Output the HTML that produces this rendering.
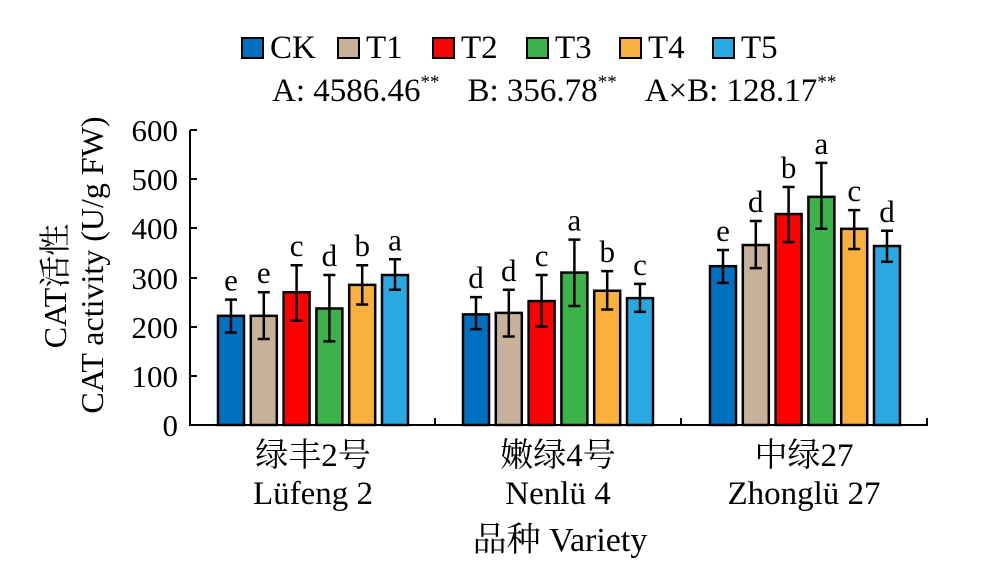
<!DOCTYPE html>
<html><head><meta charset="utf-8"><style>body{margin:0;background:#fff}svg{display:block}text{font-family:"Liberation Serif","Noto Serif CJK SC","Noto Sans CJK SC",serif;fill:#000}</style></head>
<body>
<svg width="988" height="567" viewBox="0 0 988 567" xmlns="http://www.w3.org/2000/svg">
<g font-size="33">
<rect x="242" y="38" width="21" height="20" fill="#0070c0" stroke="#000" stroke-width="2"/><text x="270" y="58">CK</text>
<rect x="338" y="38" width="21" height="20" fill="#c8b19a" stroke="#000" stroke-width="2"/><text x="366" y="58">T1</text>
<rect x="433" y="38" width="21" height="20" fill="#ff0000" stroke="#000" stroke-width="2"/><text x="461" y="58">T2</text>
<rect x="527" y="38" width="21" height="20" fill="#3bb34a" stroke="#000" stroke-width="2"/><text x="555" y="58">T3</text>
<rect x="620" y="38" width="21" height="20" fill="#f9b03d" stroke="#000" stroke-width="2"/><text x="648" y="58">T4</text>
<rect x="713" y="38" width="21" height="20" fill="#29a9e1" stroke="#000" stroke-width="2"/><text x="741" y="58">T5</text>
</g>
<text x="272" y="101" font-size="33">A: 4586.46<tspan font-size="19" dy="-13">**</tspan><tspan dy="13" dx="28">B: 356.78</tspan><tspan font-size="19" dy="-13">**</tspan><tspan dy="13" dx="28">A×B: 128.17</tspan><tspan font-size="19" dy="-13">**</tspan></text>
<g stroke="#000" stroke-width="2" fill="none">
<path d="M190 130V425H927V418M435 425V418M681 425V418"/>
<path d="M190 130h7M190 179h7M190 228h7M190 278h7M190 327h7M190 376h7"/>
</g>
<g font-size="31" text-anchor="end">
<text x="178" y="141">600</text><text x="178" y="190">500</text><text x="178" y="239">400</text><text x="178" y="289">300</text><text x="178" y="338">200</text><text x="178" y="387">100</text><text x="178" y="436">0</text>
</g>
<g id="bars" stroke="#000" stroke-width="2.5"></g>
<g id="errs" stroke="#000" stroke-width="2.5" fill="none"></g>
<g id="lets" font-size="31" text-anchor="middle"></g>
<g font-size="33" text-anchor="middle">
<text x="313" y="466">绿丰2号</text><text x="313" y="504">Lüfeng 2</text>
<text x="558" y="466">嫩绿4号</text><text x="558" y="504">Nenlü 4</text>
<text x="804" y="466">中绿27</text><text x="804" y="504">Zhonglü 27</text>
<text x="560" y="551" font-size="34">品种 Variety</text>
</g>
<g font-size="32" text-anchor="middle">
<text transform="translate(66 286) rotate(-90)">CAT活性</text>
<text transform="translate(103 265) rotate(-90)">CAT activity (U/g FW)</text>
</g>
<script>
var cols=["#0070c0","#c8b19a","#ff0000","#3bb34a","#f9b03d","#29a9e1"];
var d=[[[222,255,188,"e"],[222,270,175,"e"],[270,325,212,"c"],[237,305,170,"d"],[285,325,245,"b"],[305,337,275,"a"]],
[[225,260,195,"d"],[228,275,180,"d"],[252,305,200,"c"],[310,377,242,"a"],[273,313,235,"b"],[258,287,230,"c"]],
[[323,356,289,"e"],[366,415,319,"d"],[429,484,372,"b"],[464,533,399,"a"],[399,437,358,"c"],[364,395,332,"d"]]];
var st=[218,463,710],ns="http://www.w3.org/2000/svg";
function y(v){return 425-v*0.4917;}
function el(p,t,a,tx){var e=document.createElementNS(ns,t);for(var k in a)e.setAttribute(k,a[k]);if(tx)e.textContent=tx;document.getElementById(p).appendChild(e);}
d.forEach(function(g,gi){g.forEach(function(b,i){var x=st[gi]+i*32.8,w=26,c=x+w/2;
el("bars","rect",{x:x,y:y(b[0]),width:w,height:425-y(b[0]),fill:cols[i]});
el("errs","path",{d:"M"+c+" "+y(b[1])+"V"+y(b[2])+"M"+(c-6)+" "+y(b[1])+"h12M"+(c-6)+" "+y(b[2])+"h12"});
el("lets","text",{x:c,y:y(b[1])-9},b[3]);});});
</script>
</svg>
</body></html>
